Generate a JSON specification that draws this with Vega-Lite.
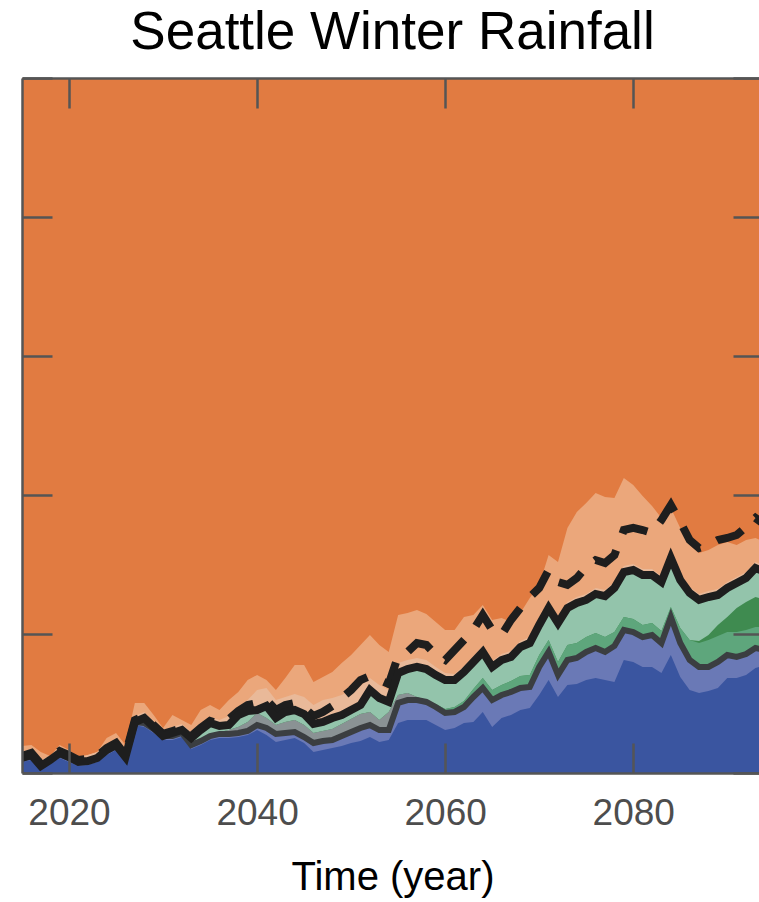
{
  "$schema": "https://vega.github.io/schema/vega-lite/v6.json",
  "width": 741,
  "height": 695,
  "autosize": {"type": "none"},
  "padding": {"left": 22, "top": 78, "right": 0, "bottom": 129},
  "title": {"text": "Seattle Winter Rainfall", "fontSize": 53, "font": "Liberation Sans", "fontWeight": "normal", "color": "#000000", "anchor": "middle", "offset": 17},
  "config": {"view": {"fill": "#E17B41", "stroke": null}},
  "data": {"values": [
    {"yr":2015,"b":0.79,"l":1.08,"gy":1.08,"m":1.08,"dg":1.08,"s":1.08,"pi":1.51,"p":1.94,"d":1.22},
    {"yr":2016,"b":0.94,"l":1.22,"gy":1.29,"m":1.29,"dg":1.29,"s":1.29,"pi":1.73,"p":2.01,"d":1.44},
    {"yr":2017,"b":0.36,"l":0.50,"gy":0.50,"m":0.50,"dg":0.50,"s":0.50,"pi":0.94,"p":1.51,"d":0.65},
    {"yr":2018,"b":0.65,"l":0.94,"gy":0.94,"m":0.94,"dg":0.94,"s":0.94,"pi":1.22,"p":1.22,"d":1.08},
    {"yr":2019,"b":1.08,"l":1.37,"gy":1.44,"m":1.44,"dg":1.44,"s":1.44,"pi":1.87,"p":2.01,"d":1.58},
    {"yr":2020,"b":0.79,"l":1.08,"gy":1.15,"m":1.15,"dg":1.15,"s":1.15,"pi":1.58,"p":1.65,"d":1.29},
    {"yr":2021,"b":0.50,"l":0.79,"gy":0.79,"m":0.79,"dg":0.79,"s":0.79,"pi":1.15,"p":1.15,"d":0.94},
    {"yr":2022,"b":0.58,"l":0.86,"gy":0.86,"m":0.86,"dg":0.86,"s":0.86,"pi":1.29,"p":1.29,"d":1.01},
    {"yr":2023,"b":0.79,"l":1.08,"gy":1.08,"m":1.08,"dg":1.08,"s":1.08,"pi":1.51,"p":1.51,"d":1.22},
    {"yr":2024,"b":1.29,"l":1.58,"gy":1.65,"m":1.65,"dg":1.65,"s":1.65,"pi":2.09,"p":2.52,"d":1.80},
    {"yr":2025,"b":1.65,"l":1.94,"gy":2.01,"m":2.01,"dg":2.01,"s":2.01,"pi":2.45,"p":2.88,"d":2.16},
    {"yr":2026,"b":0.79,"l":1.08,"gy":1.15,"m":1.15,"dg":1.15,"s":1.15,"pi":1.58,"p":2.01,"d":1.29},
    {"yr":2027,"b":3.45,"l":3.67,"gy":3.67,"m":3.67,"dg":3.67,"s":3.67,"pi":4.10,"p":5.04,"d":3.81},
    {"yr":2028,"b":3.31,"l":3.60,"gy":3.74,"m":3.74,"dg":3.74,"s":3.96,"pi":4.39,"p":5.04,"d":4.10},
    {"yr":2029,"b":2.88,"l":3.17,"gy":3.31,"m":3.31,"dg":3.31,"s":3.31,"pi":3.74,"p":4.17,"d":3.45},
    {"yr":2030,"b":2.37,"l":2.66,"gy":2.66,"m":2.66,"dg":2.66,"s":2.66,"pi":3.09,"p":3.24,"d":2.81},
    {"yr":2031,"b":2.37,"l":2.66,"gy":2.81,"m":2.81,"dg":2.81,"s":2.88,"pi":3.31,"p":4.17,"d":3.02},
    {"yr":2032,"b":2.59,"l":2.88,"gy":3.02,"m":3.02,"dg":3.02,"s":3.09,"pi":3.53,"p":3.81,"d":3.24},
    {"yr":2033,"b":1.73,"l":2.01,"gy":2.16,"m":2.16,"dg":2.16,"s":2.52,"pi":2.95,"p":3.45,"d":2.66},
    {"yr":2034,"b":2.01,"l":2.30,"gy":2.45,"m":2.45,"dg":2.45,"s":3.09,"pi":3.53,"p":4.53,"d":3.24},
    {"yr":2035,"b":2.37,"l":2.66,"gy":2.81,"m":2.81,"dg":2.81,"s":3.60,"pi":4.03,"p":4.89,"d":3.74},
    {"yr":2036,"b":2.52,"l":2.81,"gy":2.95,"m":2.95,"dg":2.95,"s":3.38,"pi":3.81,"p":4.53,"d":3.53},
    {"yr":2037,"b":2.52,"l":2.81,"gy":3.09,"m":3.09,"dg":3.09,"s":3.45,"pi":4.10,"p":5.25,"d":3.88},
    {"yr":2038,"b":2.59,"l":2.88,"gy":3.31,"m":3.31,"dg":3.31,"s":4.17,"pi":4.75,"p":5.83,"d":4.46},
    {"yr":2039,"b":2.73,"l":3.02,"gy":3.67,"m":3.67,"dg":3.67,"s":4.46,"pi":5.25,"p":6.69,"d":4.89},
    {"yr":2040,"b":3.09,"l":3.45,"gy":4.32,"m":4.32,"dg":4.32,"s":4.53,"pi":5.97,"p":7.05,"d":5.04},
    {"yr":2041,"b":2.73,"l":3.24,"gy":3.96,"m":3.96,"dg":3.96,"s":4.82,"pi":6.12,"p":6.69,"d":5.25},
    {"yr":2042,"b":2.23,"l":2.81,"gy":3.45,"m":3.45,"dg":3.45,"s":3.96,"pi":5.25,"p":5.97,"d":4.53},
    {"yr":2043,"b":2.37,"l":2.88,"gy":3.67,"m":3.67,"dg":3.67,"s":4.39,"pi":5.47,"p":6.83,"d":4.89},
    {"yr":2044,"b":2.52,"l":2.95,"gy":3.81,"m":3.81,"dg":3.81,"s":4.53,"pi":5.68,"p":7.77,"d":5.04},
    {"yr":2045,"b":2.16,"l":2.59,"gy":3.45,"m":3.45,"dg":3.45,"s":4.24,"pi":5.47,"p":7.77,"d":4.68},
    {"yr":2046,"b":1.51,"l":2.16,"gy":2.88,"m":2.88,"dg":2.88,"s":3.53,"pi":4.89,"p":6.55,"d":4.10},
    {"yr":2047,"b":1.65,"l":2.30,"gy":3.02,"m":3.02,"dg":3.02,"s":3.67,"pi":5.25,"p":6.91,"d":4.39},
    {"yr":2048,"b":1.80,"l":2.37,"gy":3.17,"m":3.17,"dg":3.17,"s":3.96,"pi":5.40,"p":7.27,"d":4.82},
    {"yr":2049,"b":1.94,"l":2.66,"gy":3.53,"m":3.53,"dg":3.53,"s":4.17,"pi":5.61,"p":7.91,"d":5.40},
    {"yr":2050,"b":2.16,"l":2.95,"gy":3.88,"m":3.88,"dg":3.88,"s":4.53,"pi":5.97,"p":8.49,"d":5.97},
    {"yr":2051,"b":2.30,"l":3.24,"gy":4.24,"m":4.24,"dg":4.24,"s":4.89,"pi":6.26,"p":9.21,"d":6.69},
    {"yr":2052,"b":2.59,"l":3.45,"gy":4.39,"m":4.39,"dg":4.39,"s":5.97,"pi":6.83,"p":9.93,"d":6.98},
    {"yr":2053,"b":2.23,"l":3.09,"gy":3.81,"m":3.81,"dg":3.81,"s":5.40,"pi":6.33,"p":9.21,"d":6.69},
    {"yr":2054,"b":2.37,"l":3.09,"gy":4.39,"m":4.39,"dg":4.39,"s":5.11,"pi":5.97,"p":8.71,"d":6.40},
    {"yr":2055,"b":3.60,"l":5.04,"gy":5.61,"m":5.61,"dg":5.61,"s":7.19,"pi":7.91,"p":11.37,"d":8.42},
    {"yr":2056,"b":3.81,"l":5.25,"gy":5.76,"m":5.76,"dg":5.76,"s":7.48,"pi":8.13,"p":11.51,"d":8.71},
    {"yr":2057,"b":3.81,"l":5.25,"gy":5.47,"m":5.47,"dg":5.47,"s":7.63,"pi":8.27,"p":11.73,"d":9.35},
    {"yr":2058,"b":3.81,"l":5.11,"gy":5.11,"m":5.25,"dg":5.25,"s":7.48,"pi":8.13,"p":11.44,"d":9.21},
    {"yr":2059,"b":3.45,"l":4.75,"gy":4.75,"m":4.96,"dg":4.96,"s":7.05,"pi":7.63,"p":10.86,"d":8.49},
    {"yr":2060,"b":3.09,"l":4.32,"gy":4.32,"m":4.60,"dg":4.60,"s":6.69,"pi":7.19,"p":10.29,"d":8.13},
    {"yr":2061,"b":3.24,"l":4.39,"gy":4.39,"m":4.75,"dg":4.75,"s":6.69,"pi":7.12,"p":10.29,"d":8.85},
    {"yr":2062,"b":3.60,"l":4.75,"gy":4.75,"m":5.18,"dg":5.18,"s":7.27,"pi":7.70,"p":11.22,"d":9.57},
    {"yr":2063,"b":3.67,"l":5.47,"gy":5.47,"m":6.04,"dg":6.04,"s":7.99,"pi":8.42,"p":11.37,"d":10.29},
    {"yr":2064,"b":4.39,"l":6.12,"gy":6.12,"m":6.83,"dg":6.83,"s":8.71,"pi":9.14,"p":12.09,"d":11.37},
    {"yr":2065,"b":3.31,"l":5.25,"gy":5.25,"m":5.97,"dg":5.97,"s":7.63,"pi":8.06,"p":11.01,"d":10.29},
    {"yr":2066,"b":3.96,"l":5.61,"gy":5.61,"m":6.33,"dg":6.33,"s":8.13,"pi":8.56,"p":11.15,"d":9.93},
    {"yr":2067,"b":4.17,"l":5.83,"gy":5.83,"m":6.62,"dg":6.62,"s":8.35,"pi":8.78,"p":10.86,"d":11.01},
    {"yr":2068,"b":4.53,"l":6.12,"gy":6.12,"m":6.98,"dg":6.98,"s":9.06,"pi":9.50,"p":11.51,"d":11.87},
    {"yr":2069,"b":4.68,"l":6.19,"gy":6.19,"m":7.05,"dg":7.05,"s":9.35,"pi":9.78,"p":12.59,"d":12.66},
    {"yr":2070,"b":5.61,"l":7.63,"gy":7.63,"m":8.49,"dg":8.49,"s":10.65,"pi":11.08,"p":13.53,"d":13.31},
    {"yr":2071,"b":6.69,"l":8.71,"gy":8.71,"m":9.57,"dg":9.57,"s":11.87,"pi":12.30,"p":15.68,"d":14.60},
    {"yr":2072,"b":5.47,"l":7.05,"gy":7.05,"m":7.99,"dg":7.99,"s":10.79,"pi":11.22,"p":15.18,"d":13.74},
    {"yr":2073,"b":6.33,"l":8.13,"gy":8.13,"m":9.21,"dg":9.21,"s":11.87,"pi":12.30,"p":17.63,"d":13.53},
    {"yr":2074,"b":6.40,"l":8.27,"gy":8.27,"m":9.35,"dg":9.35,"s":12.23,"pi":12.66,"p":18.78,"d":14.03},
    {"yr":2075,"b":6.69,"l":8.71,"gy":8.71,"m":9.78,"dg":9.78,"s":12.45,"pi":12.88,"p":19.42,"d":14.82},
    {"yr":2076,"b":6.83,"l":8.99,"gy":8.99,"m":10.07,"dg":10.07,"s":12.88,"pi":13.31,"p":20.14,"d":15.32},
    {"yr":2077,"b":6.69,"l":8.71,"gy":8.71,"m":9.78,"dg":9.78,"s":12.73,"pi":13.17,"p":19.86,"d":15.11},
    {"yr":2078,"b":6.55,"l":9.14,"gy":9.14,"m":10.14,"dg":10.14,"s":13.31,"pi":13.74,"p":19.78,"d":15.68},
    {"yr":2079,"b":8.13,"l":10.29,"gy":10.29,"m":11.22,"dg":11.22,"s":14.46,"pi":14.89,"p":21.22,"d":17.48},
    {"yr":2080,"b":7.99,"l":10.14,"gy":10.14,"m":11.08,"dg":11.08,"s":14.60,"pi":15.04,"p":20.72,"d":17.63},
    {"yr":2081,"b":7.63,"l":9.78,"gy":9.78,"m":10.65,"dg":10.65,"s":14.24,"pi":14.68,"p":19.93,"d":17.48},
    {"yr":2082,"b":7.63,"l":9.93,"gy":9.93,"m":10.79,"dg":10.79,"s":14.24,"pi":14.68,"p":19.21,"d":17.27},
    {"yr":2083,"b":7.19,"l":9.35,"gy":9.35,"m":10.22,"dg":10.22,"s":13.74,"pi":14.17,"p":18.35,"d":18.20},
    {"yr":2084,"b":8.49,"l":11.22,"gy":11.22,"m":11.94,"dg":11.94,"s":15.47,"pi":15.90,"p":19.06,"d":19.28},
    {"yr":2085,"b":6.91,"l":9.35,"gy":9.35,"m":10.43,"dg":10.43,"s":13.88,"pi":14.32,"p":17.63,"d":18.06},
    {"yr":2086,"b":5.97,"l":8.13,"gy":8.13,"m":9.57,"dg":9.57,"s":12.95,"pi":13.38,"p":16.40,"d":16.76},
    {"yr":2087,"b":5.76,"l":7.63,"gy":7.63,"m":9.35,"dg":9.50,"s":12.45,"pi":12.88,"p":15.83,"d":16.19},
    {"yr":2088,"b":5.90,"l":7.63,"gy":7.63,"m":9.57,"dg":9.93,"s":12.66,"pi":13.09,"p":16.04,"d":16.40},
    {"yr":2089,"b":6.12,"l":7.99,"gy":7.99,"m":9.86,"dg":10.65,"s":12.81,"pi":13.24,"p":16.40,"d":16.76},
    {"yr":2090,"b":6.83,"l":8.49,"gy":8.49,"m":10.14,"dg":11.22,"s":13.31,"pi":13.74,"p":16.62,"d":16.91},
    {"yr":2091,"b":6.83,"l":8.35,"gy":8.35,"m":10.14,"dg":11.87,"s":13.67,"pi":14.10,"p":16.40,"d":17.12},
    {"yr":2092,"b":7.05,"l":8.56,"gy":8.56,"m":10.29,"dg":12.30,"s":14.03,"pi":14.46,"p":16.76,"d":17.70},
    {"yr":2093,"b":7.55,"l":8.99,"gy":8.99,"m":10.50,"dg":12.66,"s":14.75,"pi":15.18,"p":16.91,"d":18.35},
    {"yr":2094,"b":7.77,"l":8.85,"gy":8.85,"m":10.50,"dg":12.45,"s":14.46,"pi":14.89,"p":16.62,"d":17.84}
  ]},
  "resolve": {"axis": {"x": "independent", "y": "independent"}},
  "encoding": {
    "x": {"field": "yr", "type": "quantitative", "scale": {"domain": [2015, 2093.8], "nice": false, "zero": false}, "axis": null}
  },
  "layer": [
    {
      "mark": {"type": "area", "color": "#EBA77B", "clip": true},
      "encoding": {
        "x": {"field": "yr", "type": "quantitative", "scale": {"domain": [2015, 2093.8], "nice": false, "zero": false},
          "axis": {"orient": "bottom", "values": [2020, 2040, 2060, 2080], "format": "d", "grid": false,
            "labelFontSize": 37, "labelFont": "Liberation Sans", "labelColor": "#4D4D4D", "labelPadding": 52, "labelFlush": false, "labelOverlap": false,
            "tickSize": -30, "tickWidth": 2.5, "tickColor": "#555555", "domainColor": "#555555", "domainWidth": 2.5,
            "title": "Time (year)", "titleFontSize": 40, "titleFont": "Liberation Sans", "titleFontWeight": "normal", "titleColor": "#000000", "titlePadding": 26, "zindex": 1}},
        "y": {"field": "p", "type": "quantitative", "scale": {"domain": [0, 50], "nice": false},
          "axis": {"orient": "left", "values": [0, 10, 20, 30, 40, 50], "labels": false, "grid": false, "title": null,
            "tickSize": -30, "tickWidth": 2.5, "tickColor": "#555555", "domainColor": "#555555", "domainWidth": 2.5, "zindex": 1}},
        "y2": {"datum": 0}
      }
    },
    {
      "mark": {"type": "area", "color": "#E9B999", "clip": true},
      "encoding": {
        "x": {"field": "yr", "type": "quantitative", "scale": {"domain": [2015, 2093.8], "nice": false, "zero": false},
          "axis": {"orient": "top", "values": [2020, 2040, 2060, 2080], "labels": false, "grid": false, "title": null,
            "tickSize": -30, "tickWidth": 2.5, "tickColor": "#555555", "domainColor": "#555555", "domainWidth": 2.5, "zindex": 1}},
        "y": {"field": "pi", "type": "quantitative", "scale": {"domain": [0, 50], "nice": false},
          "axis": {"orient": "right", "values": [0, 10, 20, 30, 40, 50], "labels": false, "grid": false, "title": null,
            "tickSize": -30, "tickWidth": 2.5, "tickColor": "#555555", "domainColor": "#555555", "domainWidth": 2.5, "zindex": 1}},
        "y2": {"datum": 0}
      }
    },
    {"mark": {"type": "area", "color": "#93C4AB", "clip": true}, "encoding": {"y": {"field": "s", "type": "quantitative", "axis": null}, "y2": {"datum": 0}}},
    {"mark": {"type": "area", "color": "#3F8B50", "clip": true}, "encoding": {"y": {"field": "dg", "type": "quantitative", "axis": null}, "y2": {"datum": 0}}},
    {"mark": {"type": "area", "color": "#5EA67C", "clip": true}, "encoding": {"y": {"field": "m", "type": "quantitative", "axis": null}, "y2": {"datum": 0}}},
    {"mark": {"type": "area", "color": "#8A9294", "clip": true}, "encoding": {"y": {"field": "gy", "type": "quantitative", "axis": null}, "y2": {"datum": 0}}},
    {"mark": {"type": "area", "color": "#6A79B6", "clip": true}, "encoding": {"y": {"field": "l", "type": "quantitative", "axis": null}, "y2": {"datum": 0}}},
    {"mark": {"type": "area", "color": "#3A55A0", "clip": true}, "encoding": {"y": {"field": "b", "type": "quantitative", "axis": null}, "y2": {"datum": 0}}},
    {"mark": {"type": "line", "color": "#3B3E41", "strokeWidth": 6, "clip": true}, "encoding": {"y": {"field": "l", "type": "quantitative", "axis": null}}},
    {"mark": {"type": "line", "color": "#1E1E1E", "strokeWidth": 8, "strokeDash": [28, 18], "clip": true}, "encoding": {"y": {"field": "d", "type": "quantitative", "axis": null}}},
    {"mark": {"type": "line", "color": "#1E1E1E", "strokeWidth": 8, "clip": true}, "encoding": {"y": {"field": "s", "type": "quantitative", "axis": null}}}
  ]
}
